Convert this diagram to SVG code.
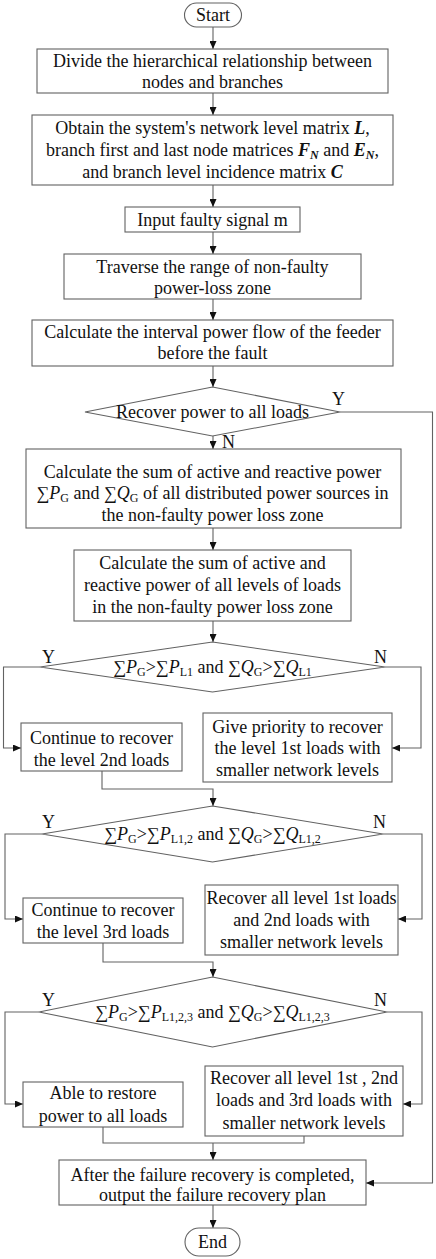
<svg xmlns="http://www.w3.org/2000/svg" width="436" height="1259" viewBox="0 0 436 1259">
<defs>
<style>
.box{fill:#fff;stroke:#626262;stroke-width:1.1}
.ln{fill:none;stroke:#626262;stroke-width:1.1}
.t{font-family:"Liberation Serif","Times New Roman",serif;font-size:18px;fill:#111;text-anchor:middle}
.lb{font-family:"Liberation Serif","Times New Roman",serif;font-size:18px;fill:#111}
.i{font-style:italic}
.bi{font-style:italic;font-weight:bold}
.s{font-size:12px}
</style>
<marker id="ah" markerUnits="userSpaceOnUse" markerWidth="8" markerHeight="7" refX="8" refY="3.5" orient="auto">
<path d="M0,0 L8,3.5 L0,7 z" fill="#111"/>
</marker>
</defs>
<rect width="436" height="1259" fill="#fff"/>

<g id="connectors">
<path class="ln" d="M213,27 V49" marker-end="url(#ah)"/>
<path class="ln" d="M213,93 V115" marker-end="url(#ah)"/>
<path class="ln" d="M213,185 V207" marker-end="url(#ah)"/>
<path class="ln" d="M213,232 V254" marker-end="url(#ah)"/>
<path class="ln" d="M213,299 V320" marker-end="url(#ah)"/>
<path class="ln" d="M213,366 V387" marker-end="url(#ah)"/>
<path class="ln" d="M340,412 H432.5 V1183 H366" marker-end="url(#ah)"/>
<path class="ln" d="M213,436 V449" marker-end="url(#ah)"/>
<path class="ln" d="M213,528 V550" marker-end="url(#ah)"/>
<path class="ln" d="M213,621 V642" marker-end="url(#ah)"/>
<path class="ln" d="M40,667 H3.5 V748 H21" marker-end="url(#ah)"/>
<path class="ln" d="M385,667 H421 V748 H392" marker-end="url(#ah)"/>
<path class="ln" d="M102,771 V789 H213 V806" marker-end="url(#ah)"/>
<path class="ln" d="M42,834 H5 V919 H23" marker-end="url(#ah)"/>
<path class="ln" d="M383,834 H422 V919 H398" marker-end="url(#ah)"/>
<path class="ln" d="M103,943 V962 H213 V977" marker-end="url(#ah)"/>
<path class="ln" d="M39,1012 H5 V1104 H23" marker-end="url(#ah)"/>
<path class="ln" d="M387,1012 H422 V1104 H403" marker-end="url(#ah)"/>
<path class="ln" d="M103,1127 V1143 H304 V1136"/>
<path class="ln" d="M213,1143 V1160" marker-end="url(#ah)"/>
<path class="ln" d="M213,1205 V1228" marker-end="url(#ah)"/>
<text class="lb" x="332" y="405">Y</text>
<text class="lb" x="222" y="448">N</text>
<text class="lb" x="42" y="663">Y</text>
<text class="lb" x="374" y="663">N</text>
<text class="lb" x="42" y="828">Y</text>
<text class="lb" x="373" y="828">N</text>
<text class="lb" x="42" y="1006">Y</text>
<text class="lb" x="374" y="1006">N</text>
</g>

<g id="start">
<rect class="box" x="184.5" y="3" width="57" height="24" rx="12"/>
<text class="t" x="213" y="21">Start</text>
</g>

<g id="divide">
<rect class="box" x="37" y="49" width="351" height="44"/>
<text class="t" x="212.5" y="67">Divide the hierarchical relationship between</text>
<text class="t" x="212.5" y="88">nodes and branches</text>
</g>

<g id="obtain">
<rect class="box" x="32" y="115" width="361" height="70"/>
<text class="t" x="212.5" y="134">Obtain the system's network level matrix <tspan class="bi">L</tspan>,</text>
<text class="t" x="212.5" y="156">branch first and last node matrices <tspan class="bi">F</tspan><tspan class="bi s" dy="3">N</tspan><tspan dy="-3"> and </tspan><tspan class="bi">E</tspan><tspan class="bi s" dy="3">N</tspan><tspan dy="-3">,</tspan></text>
<text class="t" x="212.5" y="178">and branch level incidence matrix <tspan class="bi">C</tspan></text>
</g>

<g id="input">
<rect class="box" x="125" y="207" width="175" height="25"/>
<text class="t" x="212.5" y="226">Input faulty signal m</text>
</g>

<g id="traverse">
<rect class="box" x="64" y="254" width="297" height="45"/>
<text class="t" x="212.5" y="273">Traverse the range of non-faulty</text>
<text class="t" x="212.5" y="294">power-loss zone</text>
</g>

<g id="flow">
<rect class="box" x="32" y="320" width="361" height="46"/>
<text class="t" x="212.5" y="338">Calculate the interval power flow of the feeder</text>
<text class="t" x="212.5" y="359">before the fault</text>
</g>

<g id="recover-all">
<polygon class="box" points="212.5,387 340,412 212.5,436 85,412"/>
<text class="t" x="212.5" y="418">Recover power to all loads</text>
</g>

<g id="sum-dg">
<rect class="box" x="26" y="449" width="375" height="79"/>
<text class="t" x="212.5" y="478">Calculate the sum of active and reactive power</text>
<text class="t" x="212.5" y="499">∑<tspan class="i">P</tspan><tspan class="s" dy="3">G</tspan><tspan dy="-3"> and ∑</tspan><tspan class="i">Q</tspan><tspan class="s" dy="3">G</tspan><tspan dy="-3"> of all distributed power sources in</tspan></text>
<text class="t" x="212.5" y="521">the non-faulty power loss zone</text>
</g>

<g id="sum-loads">
<rect class="box" x="74" y="550" width="277" height="71"/>
<text class="t" x="212.5" y="569">Calculate the sum of active and</text>
<text class="t" x="212.5" y="591">reactive power of all levels of loads</text>
<text class="t" x="212.5" y="613">in the non-faulty power loss zone</text>
</g>

<g id="cond1">
<polygon class="box" points="212.5,642 385,667 212.5,692 40,667"/>
<text class="t" x="212.5" y="673">∑<tspan class="i">P</tspan><tspan class="s" dy="3">G</tspan><tspan dy="-3">&gt;∑</tspan><tspan class="i">P</tspan><tspan class="s" dy="3">L1</tspan><tspan dy="-3"> and ∑</tspan><tspan class="i">Q</tspan><tspan class="s" dy="3">G</tspan><tspan dy="-3">&gt;∑</tspan><tspan class="i">Q</tspan><tspan class="s" dy="3">L1</tspan></text>
</g>

<g id="level2">
<rect class="box" x="21" y="723" width="161" height="48"/>
<text class="t" x="101.5" y="744">Continue to recover</text>
<text class="t" x="101.5" y="766">the level 2nd loads</text>
</g>

<g id="priority1">
<rect class="box" x="203" y="713" width="189" height="69"/>
<text class="t" x="297.5" y="733">Give priority to recover</text>
<text class="t" x="297.5" y="754">the level 1st loads with</text>
<text class="t" x="297.5" y="776">smaller network levels</text>
</g>

<g id="cond2">
<polygon class="box" points="212.5,806 383,834 212.5,862 42,834"/>
<text class="t" x="212.5" y="840">∑<tspan class="i">P</tspan><tspan class="s" dy="3">G</tspan><tspan dy="-3">&gt;∑</tspan><tspan class="i">P</tspan><tspan class="s" dy="3">L1,2</tspan><tspan dy="-3"> and ∑</tspan><tspan class="i">Q</tspan><tspan class="s" dy="3">G</tspan><tspan dy="-3">&gt;∑</tspan><tspan class="i">Q</tspan><tspan class="s" dy="3">L1,2</tspan></text>
</g>

<g id="level3">
<rect class="box" x="23" y="898" width="160" height="45"/>
<text class="t" x="103" y="916">Continue to recover</text>
<text class="t" x="103" y="938">the level 3rd loads</text>
</g>

<g id="recover12">
<rect class="box" x="205" y="885" width="193" height="70"/>
<text class="t" x="301.5" y="904">Recover all level 1st loads</text>
<text class="t" x="301.5" y="926">and 2nd loads with</text>
<text class="t" x="301.5" y="948">smaller network levels</text>
</g>

<g id="cond3">
<polygon class="box" points="212.5,977 387,1012 212.5,1047 39,1012"/>
<text class="t" x="212.5" y="1018">∑<tspan class="i">P</tspan><tspan class="s" dy="3">G</tspan><tspan dy="-3">&gt;∑</tspan><tspan class="i">P</tspan><tspan class="s" dy="3">L1,2,3</tspan><tspan dy="-3"> and ∑</tspan><tspan class="i">Q</tspan><tspan class="s" dy="3">G</tspan><tspan dy="-3">&gt;∑</tspan><tspan class="i">Q</tspan><tspan class="s" dy="3">L1,2,3</tspan></text>
</g>

<g id="restore-all">
<rect class="box" x="23" y="1082" width="160" height="45"/>
<text class="t" x="103" y="1099">Able to restore</text>
<text class="t" x="103" y="1122">power to all loads</text>
</g>

<g id="recover123">
<rect class="box" x="205" y="1066" width="198" height="70"/>
<text class="t" x="304" y="1084">Recover all level 1st , 2nd</text>
<text class="t" x="304" y="1106">loads and 3rd loads with</text>
<text class="t" x="304" y="1129">smaller network levels</text>
</g>

<g id="output">
<rect class="box" x="59" y="1160" width="307" height="45"/>
<text class="t" x="212.5" y="1181">After the failure recovery is completed,</text>
<text class="t" x="212.5" y="1201">output the failure recovery plan</text>
</g>

<g id="end">
<rect class="box" x="185" y="1228" width="55" height="28" rx="14"/>
<text class="t" x="212.5" y="1248">End</text>
</g>
</svg>
